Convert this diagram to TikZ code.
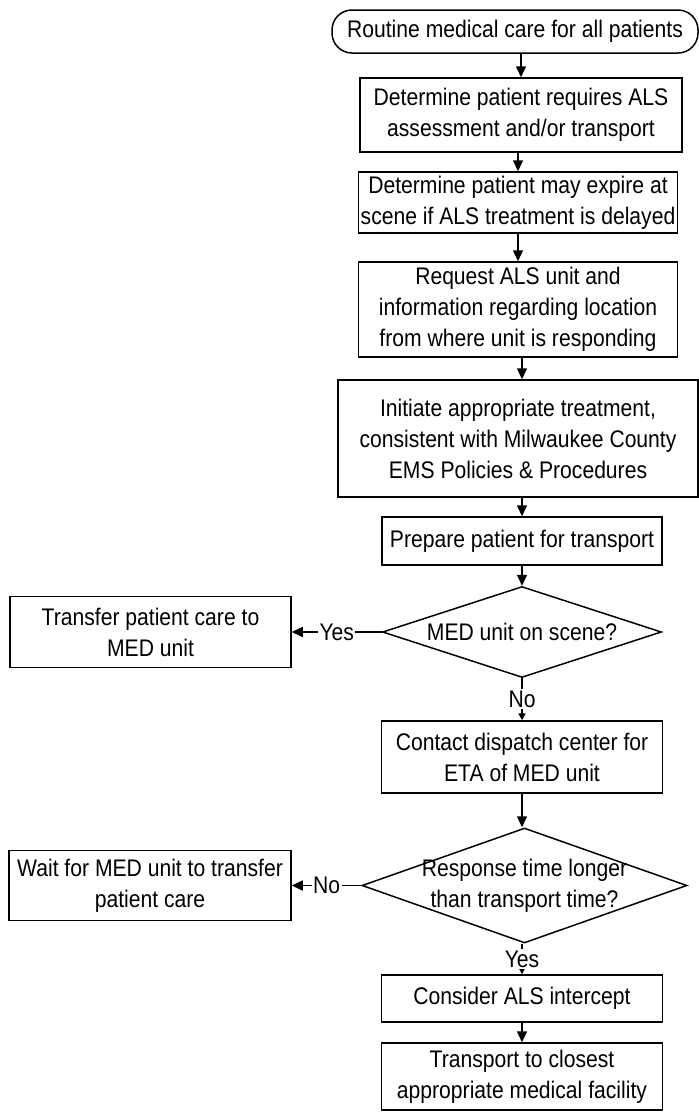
\documentclass[tikz,border=0pt]{standalone}
\usepackage{fontspec}
\setmainfont{Liberation Sans}[FakeStretch=0.88]
\usetikzlibrary{shapes.geometric,arrows.meta}
\newcommand\flowfont{\fontsize{24}{31}\selectfont}
\begin{document}
\begin{tikzpicture}[x=1pt,y=-1pt,
  box/.style={draw, line width=1.5pt, rectangle, inner sep=0pt, align=center, font=\flowfont},
  term/.style={box, rounded corners=20pt},
  dia/.style={draw, line width=1.5pt, diamond, inner sep=0pt},
  txt/.style={inner sep=0pt, align=center, font=\flowfont},
  lbl/.style={fill=white, inner sep=1.5pt, font=\flowfont},
  arr/.style={line width=1.5pt, -{Triangle[length=11pt,width=10pt]}},
  sarr/.style={line width=1.5pt, -{Triangle[length=7pt,width=7pt]}}]
\useasboundingbox[fill=white] (0,0) rectangle (699,1112);

\node[term, minimum width=366pt, minimum height=43pt] (t0) at (515,31.5) {Routine medical care for all patients};
\node[box, minimum width=322pt, minimum height=74pt] (b1) at (521,115) {Determine patient requires ALS\\assessment and/or transport};
\node[box, minimum width=319pt, minimum height=61pt] (b2) at (518,202.5) {Determine patient may expire at\\scene if ALS treatment is delayed};
\node[box, minimum width=319pt, minimum height=95pt] (b3) at (518,309.5) {Request ALS unit and\\information regarding location\\from where unit is responding};
\node[box, minimum width=360pt, minimum height=117pt] (b4) at (518,438.5) {Initiate appropriate treatment,\\consistent with Milwaukee County\\EMS Policies \& Procedures};
\node[box, minimum width=280pt, minimum height=48pt] (b5) at (522,541) {Prepare patient for transport};
\node[dia, minimum width=279pt, minimum height=91pt] (d1) at (522,632) {};
\node[txt] (d1t) at (d1.center) {MED unit on scene?};
\node[box, minimum width=281pt, minimum height=71pt] (t1) at (150.5,632) {Transfer patient care to\\MED unit};
\node[box, minimum width=281pt, minimum height=72pt] (c1) at (522,757) {Contact dispatch center for\\ETA of MED unit};
\node[dia, minimum width=325pt, minimum height=115pt] (d2) at (524.5,885.5) {};
\node[txt] (d2t) at (d2.center) {Response time longer\\than transport time?};
\node[box, minimum width=282pt, minimum height=70pt] (w1) at (150,885.5) {Wait for MED unit to transfer\\patient care};
\node[box, minimum width=281pt, minimum height=47pt] (k1) at (522,998.5) {Consider ALS intercept};
\node[box, minimum width=281pt, minimum height=67pt] (tr) at (522,1076.5) {Transport to closest\\appropriate medical facility};

\draw[arr] (b1.north |- t0.south) -- (b1.north);
\draw[arr] (b1.south -| b2.north) -- (b2.north);
\draw[arr] (b2.south) -- (b3.north);
\draw[arr] (b3.south -| b5.north) -- (b4.north -| b5.north);
\draw[arr] (b4.south -| b5.north) -- (b5.north);
\draw[arr] (b5.south) -- (d1.north);
\draw[arr] (d1.west) -- node[lbl]{Yes} (t1.east);
\draw[sarr] (d1.south) -- node[lbl]{No} (c1.north);
\draw[arr] (c1.south) -- (c1.south |- d2.north);
\draw[arr] (d2.west) -- node[lbl]{No} (w1.east);
\draw[sarr] (d2.south -| k1.north) -- node[lbl]{Yes} (k1.north);
\draw[arr] (k1.south) -- (tr.north);
\end{tikzpicture}
\end{document}
